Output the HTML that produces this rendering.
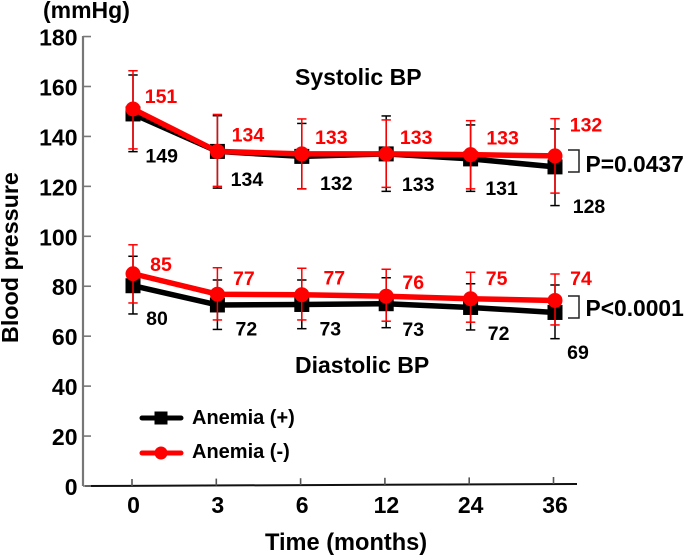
<!DOCTYPE html>
<html>
<head>
<meta charset="utf-8">
<title>Blood pressure over time</title>
<style>
html,body{margin:0;padding:0;background:#fff;width:685px;height:556px;overflow:hidden}
svg{display:block}
text{font-family:"Liberation Sans",sans-serif;font-weight:bold;fill:#000}
</style>
</head>
<body>
<svg id="chart" width="685" height="556" viewBox="0 0 685 556" xmlns="http://www.w3.org/2000/svg">
  <text x="43" y="18" font-size="23">(mmHg)</text>
  <text transform="translate(18,343) rotate(-90)" font-size="23.3">Blood pressure</text>
  <text x="265" y="550" font-size="23.6">Time (months)</text>
  <text x="295" y="85" font-size="23">Systolic BP</text>
  <text x="295" y="373" font-size="23">Diastolic BP</text>
  <path d="M568 150H579V172H568" fill="none" stroke="#222" stroke-width="1.5"/>
  <path d="M568 296H579V318H568" fill="none" stroke="#222" stroke-width="1.5"/>
  <text x="585.5" y="172" font-size="22.8">P=0.0437</text>
  <text x="585.5" y="316" font-size="22.8">P&lt;0.0001</text>
  <g>
    <line x1="142" x2="181" y1="418" y2="418" stroke="#000" stroke-width="5" stroke-linecap="round"/>
    <rect x="154.5" y="411.5" width="13" height="13" fill="#000"/>
    <text x="192" y="424" font-size="20">Anemia (+)</text>
    <line x1="142" x2="181" y1="453" y2="453" stroke="#f00" stroke-width="5" stroke-linecap="round"/>
    <circle cx="161" cy="453" r="6.5" fill="#f00"/>
    <text x="192" y="458" font-size="20">Anemia (-)</text>
  </g>
</svg>
<script>
// ---- data ----
const categories = ['0', '3', '6', '12', '24', '36'];
const yTickValues = [0, 20, 40, 60, 80, 100, 120, 140, 160, 180];

const sysPosMean = [149, 134, 132, 133, 131, 127.8];
const sysPosUpper = [164.6, 148.3, 145.2, 148.2, 144.6, 143];
const sysPosLower = [133.9, 119.3, 119, 118, 118, 112.3];
const sysPosPrinted = ['149', '134', '132', '133', '131', '128'];

const sysNegMean = [151, 134, 133, 133, 132.7, 132.2];
const sysNegUpper = [166.3, 148.8, 147, 146.6, 146.3, 147.1];
const sysNegLower = [135, 120, 119, 119.6, 119, 117.3];
const sysNegPrinted = ['151', '134', '133', '133', '133', '132'];

const diaPosMean = [80.2, 72.5, 72.7, 73, 71.5, 69.5];
const diaPosUpper = [92, 82.5, 82.5, 83.4, 81, 80.5];
const diaPosLower = [68.9, 62.7, 63, 63.4, 62.5, 59];
const diaPosPrinted = ['80', '72', '73', '73', '72', '69'];

const diaNegMean = [85, 76.8, 76.6, 76, 75, 74.3];
const diaNegUpper = [96.6, 87.4, 87.2, 86.8, 85.6, 84.9];
const diaNegLower = [73.3, 66.5, 66.5, 66, 65.6, 64.5];
const diaNegPrinted = ['85', '77', '77', '76', '75', '74'];

// ---- layout: label offsets relative to each mark ----
const nudgeSysPos = [[28.7,48.7],[29.5,34.6],[34.5,33.6],[32,37],[31,36],[34,46.3]];
const nudgeSysNeg = [[28,-6],[30.5,-9.7],[29.5,-10],[30,-10],[32,-10],[31,-24.4]];
const nudgeDiaPos = [[24,39.3],[29,30.7],[28.5,31.2],[27,32.3],[28,32.5],[23,46.5]];
const nudgeDiaNeg = [[28,-3],[26.5,-9],[32.5,-10],[27,-7],[26,-13.7],[26,-15.5]];

// ---- axis functions ----
const xPos = i => 133 + 84.4 * i;
const yPos = v => 486 - 2.497 * v;
const xTickPos = i => 132 + 84.3 * i;
const axisDrop = i => 486 - 0.4 * i;

const svg = document.getElementById('chart');
const NS = 'http://www.w3.org/2000/svg';
function make(tag, attrs, text) {
  const el = document.createElementNS(NS, tag);
  for (const k in attrs) el.setAttribute(k, attrs[k]);
  if (text !== undefined) el.textContent = text;
  svg.appendChild(el);
  return el;
}

// axes
let yAxis = make('line', {x1: 83, x2: 83, y1: 36, y2: 486, stroke: '#777', 'stroke-width': 2.2});


let xAxis = make('line', {x1: 85, x2: 577, y1: 486, y2: 484, stroke: '#111', 'stroke-width': 2});



yTickValues.forEach(v => {
  const tick = make('line', {x1: 83, x2: 91, y1: yPos(v), y2: yPos(v), stroke: '#777', 'stroke-width': 1.6});
  
  
  const label = make('text', {x: 77.5, y: yPos(v) + 9, 'text-anchor': 'end', 'font-size': 23}, String(v));
  
  
});

categories.forEach((c, i) => {
  const tick = make('line', {x1: xTickPos(i), x2: xTickPos(i), y1: axisDrop(i), y2: axisDrop(i) - 7, stroke: '#555', 'stroke-width': 1.6});
  
  
  const label = make('text', {x: xTickPos(i) + 1.5, y: 513, 'text-anchor': 'middle', 'font-size': 23}, c);
  
  
});

function drawSeries(name, color, mean, upper, lower, printed, nudge, shape) {
  mean.forEach((m, i) => {
    const x = xPos(i);
    const bar = make('line', {x1: x, x2: x, y1: yPos(upper[i]), y2: yPos(lower[i]), stroke: color, 'stroke-width': 1.5});
    
    
    [upper[i], lower[i]].forEach(v => {
      const cap = make('line', {x1: x - 4.7, x2: x + 4.7, y1: yPos(v), y2: yPos(v), stroke: color, 'stroke-width': 1.5});
      
      
    });
  });
  const line = make('polyline', {
    points: mean.map((m, i) => xPos(i) + ',' + yPos(m)).join(' '),
    fill: 'none', stroke: color, 'stroke-width': 5.5, 'stroke-linejoin': 'round'
  });
  
  
  mean.forEach((m, i) => {
    const x = xPos(i), y = yPos(m);
    const mark = shape === 'square'
      ? make('rect', {x: x - 7.5, y: y - 7.5, width: 15, height: 15, fill: color})
      : make('circle', {cx: x, cy: y, r: 7.5, fill: color});
    
    
    const lab = make('text', {
      x: x + nudge[i][0], y: y + nudge[i][1], 'text-anchor': 'middle',
      'font-size': 19.5, style: 'fill:' + color
    }, printed[i]);
    
    
  });
}

drawSeries('systolic-anemia-positive', '#000', sysPosMean, sysPosUpper, sysPosLower, sysPosPrinted, nudgeSysPos, 'square');
drawSeries('diastolic-anemia-positive', '#000', diaPosMean, diaPosUpper, diaPosLower, diaPosPrinted, nudgeDiaPos, 'square');
drawSeries('systolic-anemia-negative', '#f00', sysNegMean, sysNegUpper, sysNegLower, sysNegPrinted, nudgeSysNeg, 'circle');
drawSeries('diastolic-anemia-negative', '#f00', diaNegMean, diaNegUpper, diaNegLower, diaNegPrinted, nudgeDiaNeg, 'circle');
</script>
</body>
</html>
